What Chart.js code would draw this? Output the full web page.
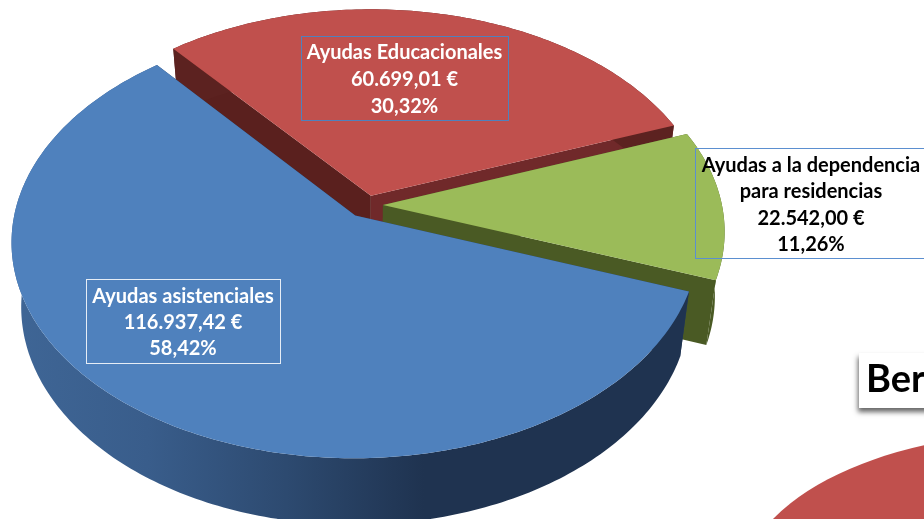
<!DOCTYPE html>
<html><head><meta charset="utf-8">
<style>
html,body{margin:0;padding:0;background:#fff;overflow:hidden}
#wrap{position:relative;width:924px;height:519px;overflow:hidden}
canvas{position:absolute;left:0;top:0}
</style>
<script src="https://cdn.jsdelivr.net/npm/chart.js@4"></script>
</head><body>
<div id="wrap"><canvas id="back" width="924" height="519"></canvas><canvas id="main" width="924" height="519"></canvas></div>
<script>
const categories = ['Ayudas asistenciales','Ayudas Educacionales','Ayudas a la dependencia'];
const amounts = [116937.42, 60699.01, 22542.00];
const amountLabels = ['116.937,42 €','60.699,01 €','22.542,00 €'];
const percentLabels = ['58,42%','30,32%','11,26%'];
const topColors = ['#4f81bd','#c0504d','#9bbb59'];
const edgeColors = ['#263f60','#5c2220','#4a5a24'];
const otherPieValues = [100];
const headingText = 'Ber';

const FONT = 'Lato, "Open Sans", sans-serif';
const view = {X:367, Y:205, A:339, B:211, D:66, p:0.12, q:0.028};
const explode = [0.06, 0.045, 0.047];

function proj(v, a, b, z){
  const w = (1 - v.p*b) * (1 + v.q*z);
  return [v.X + v.A*a/w, v.Y + (v.B*b + v.D*z)/w];
}
function sliceGeom(arc, i, v, ex){
  const mid = (arc.startAngle + arc.endAngle)/2;
  return {s:arc.startAngle, e:arc.endAngle, ou:ex*Math.cos(mid), ov:ex*Math.sin(mid)};
}
function rimPts(g, v, z, rev){
  const pts=[], n=Math.max(8,Math.ceil((g.e-g.s)*60));
  for(let k=0;k<=n;k++){
    const t=g.s+(g.e-g.s)*(rev?(n-k):k)/n;
    pts.push(proj(v, g.ou+Math.cos(t), g.ov+Math.sin(t), z));
  }
  return pts;
}
function poly(ctx, pts, fill){
  ctx.beginPath();
  pts.forEach((p,i)=> i?ctx.lineTo(p[0],p[1]):ctx.moveTo(p[0],p[1]));
  ctx.closePath();
  ctx.fillStyle=fill; ctx.fill();
}
function outerFill(ctx,i){
  const g=ctx.createLinearGradient(10,0,700,0);
  if(i===0){
    g.addColorStop(0,'#3f6696'); g.addColorStop(0.2,'#395d8b'); g.addColorStop(0.4,'#2d4a70');
    g.addColorStop(0.6,'#1f3350'); g.addColorStop(1,'#1f3350');
    return g;
  }
  return edgeColors[i];
}
const pie3d = {
  id:'pie3d',
  beforeDatasetsDraw(chart){
    const ctx=chart.ctx, arcs=chart.getDatasetMeta(0).data;
    const geo=arcs.map((a,i)=>sliceGeom(a,i,view,explode[i]));
    [1,2,0].forEach(i=>{
      const g=geo[i];
      const c0=proj(view,g.ou,g.ov,0), c1=proj(view,g.ou,g.ov,1);
      const a=[proj(view,g.ou+Math.cos(g.s),g.ov+Math.sin(g.s),0),proj(view,g.ou+Math.cos(g.s),g.ov+Math.sin(g.s),1)];
      const b=[proj(view,g.ou+Math.cos(g.e),g.ov+Math.sin(g.e),0),proj(view,g.ou+Math.cos(g.e),g.ov+Math.sin(g.e),1)];
      poly(ctx,[c0,a[0],a[1],c1],i===1?'#5a201e':edgeColors[i]);
      poly(ctx,[c0,b[0],b[1],c1],i===1?'#70292a':edgeColors[i]);
      poly(ctx,rimPts(g,view,0,false).concat(rimPts(g,view,1,true)),outerFill(ctx,i));
    });
    [1,2,0].forEach(i=>{
      const g=geo[i];
      poly(ctx,[proj(view,g.ou,g.ov,0)].concat(rimPts(g,view,0,false)),topColors[i]);
    });
    return false;
  },
  afterDraw(chart){
    const ctx=chart.ctx;
    const boxes=[
      {i:1,x:301.5,y:36.5,w:207,h:84,c:'#4f81bd',t:'#fff',cx:404.5,ys:[53,80,107],lines:[categories[1],amountLabels[1],percentLabels[1]]},
      {i:0,x:86.5,y:279.5,w:194,h:84,c:'#e6edf6',t:'#fff',cx:183,ys:[297,323,349],lines:[categories[0],amountLabels[0],percentLabels[0]]},
      {i:2,x:695.5,y:148.5,w:260,h:110,c:'#5b8fd0',t:'#000',cx:811,ys:[166,192,219,245],lines:[categories[2],'para residencias',amountLabels[2],percentLabels[2]]}
    ];
    boxes.forEach(b=>{
      ctx.lineWidth=1; ctx.strokeStyle=b.c; ctx.strokeRect(b.x,b.y,b.w,b.h);
      ctx.font='700 20px '+FONT; ctx.fillStyle=b.t; ctx.textAlign='center'; ctx.textBaseline='middle';
      b.lines.forEach((l,k)=>ctx.fillText(l,b.cx,b.ys[k]));
    });
    ctx.save();
    ctx.shadowColor='rgba(0,0,0,0.6)'; ctx.shadowBlur=5; ctx.shadowOffsetX=-1; ctx.shadowOffsetY=4;
    ctx.fillStyle='#fff'; ctx.fillRect(859,353,100,55);
    ctx.restore();
    ctx.font='700 38px '+FONT; ctx.fillStyle='#000'; ctx.textAlign='left'; ctx.textBaseline='middle';
    ctx.fillText(headingText,866,380);
  }
};
const otherView={cx:1040,cy:591,rx:300,ry:158};
const otherPie = {
  id:'otherPie',
  beforeDatasetsDraw(chart){
    const ctx=chart.ctx;
    chart.getDatasetMeta(0).data.forEach(a=>{
      ctx.beginPath();
      ctx.ellipse(otherView.cx,otherView.cy,otherView.rx,otherView.ry,0,a.startAngle,a.endAngle);
      ctx.closePath();
      ctx.fillStyle=topColors[1]; ctx.fill();
    });
    return false;
  }
};
const base={responsive:false,animation:false,events:[],plugins:{legend:{display:false},tooltip:{enabled:false}}};
new Chart(document.getElementById('back'),{type:'pie',plugins:[otherPie],
  data:{labels:['Otros'],datasets:[{data:otherPieValues,backgroundColor:topColors[1],borderWidth:0}]},options:base});
new Chart(document.getElementById('main'),{type:'pie',plugins:[pie3d],
  data:{labels:categories,datasets:[{data:amounts,backgroundColor:topColors,borderWidth:0}]},
  options:Object.assign({},base,{rotation:110})});
</script>
</body></html>
